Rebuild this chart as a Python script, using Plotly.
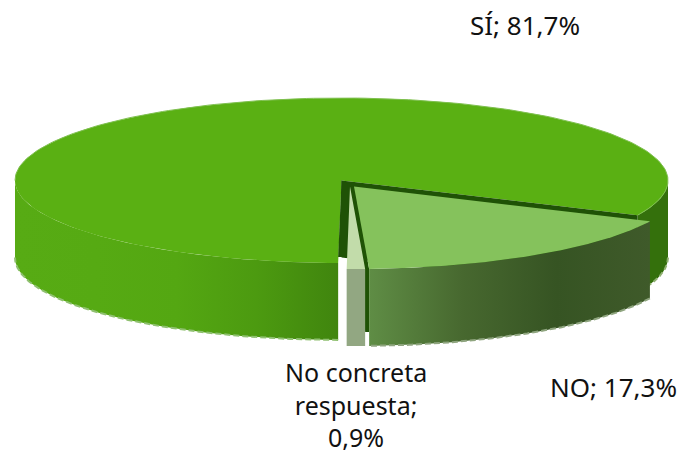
import numpy as np
import plotly.graph_objects as go

categories = ["NO", "No concreta respuesta", "SÍ"]
values = [17.3, 0.9, 81.7]
value_labels = ["17,3%", "0,9%", "81,7%"]

# Look of each slice: top colour, side gradient (left to right)
top_colors = ["#85c25c", "#c2dcaa", "#5ab013"]
wall_colors = [["#5f8d45", "#47682f", "#365423", "#3f5a2a"],
               ["#92a782", "#92a782"],
               ["#57ab14", "#56aa13", "#54a712", "#4c9a10", "#40850e"]]
dark = "#1f5206"

# Projection of the pie
CX, CY, RX, RY, DEPTH = 341.5, 180.5, 326.5, 82.5, 77
START = 25.0
OFFSETS = [(12.5, 6.0), (8.5, 6.0), (0, 0)]

starts, ends, a = [], [], START
for v in values:
    starts.append(a)
    a += v * 360 / sum(values)
    ends.append(a)


def rim(t0, t1, off=(0, 0), dy=0, n=160):
    t = np.radians(np.linspace(t0, t1, n))
    return CX + off[0] + RX * np.cos(t), CY + off[1] + dy + RY * np.sin(t)


def wedge_top(i):
    x, y = rim(starts[i], ends[i], OFFSETS[i])
    tx, ty = CX + OFFSETS[i][0], CY + OFFSETS[i][1]
    return np.r_[tx, x, tx], np.r_[ty, y, ty]


def wall(t0, t1, off):
    x0, y0 = rim(t0, t1, off)
    x1, y1 = rim(t1, t0, off, DEPTH)
    return np.r_[x0, x1, x0[0]], np.r_[y0, y1, y0[0]]


def scale(colors):
    return [[k / (len(colors) - 1), c] for k, c in enumerate(colors)]


fig = go.Figure()


def add_solid(x, y, color):
    fig.add_trace(go.Scatter(x=x, y=y, mode="lines", fill="toself", fillcolor=color,
                             line=dict(width=0, color=color), hoverinfo="skip"))


def add_grad(x, y, colors):
    fig.add_trace(go.Scatter(x=x, y=y, mode="lines", fill="toself",
                             fillgradient=dict(type="horizontal", colorscale=scale(colors)),
                             line=dict(width=0), hoverinfo="skip"))


def add_edge(t0, t1, off, dy, color, width, dash="solid"):
    x, y = rim(t0, t1, off, dy)
    fig.add_trace(go.Scatter(x=x, y=y, mode="lines", hoverinfo="skip",
                             line=dict(color=color, width=width, dash=dash)))


SI, NC, NO = 2, 1, 0
si_end = ends[SI] - 360

# --- SÍ slice: walls, top, radial walls
add_grad(*wall(starts[SI], 180, OFFSETS[SI]), wall_colors[SI])
add_edge(starts[SI], 180, OFFSETS[SI], DEPTH, "#8fc070", 2, "6px,3px")
add_solid(*wall(0, si_end, OFFSETS[SI]), "#34700c")
add_edge(0, si_end, OFFSETS[SI], DEPTH, "#8fb070", 2, "5px,3px")
add_solid(*wedge_top(SI), top_colors[SI])
add_edge(180, ends[SI], OFFSETS[SI], 0, "#7fc050", 1)

# radial wall of SÍ along the NO edge
rx0, ry0 = rim(si_end, si_end, OFFSETS[SI], n=1)
add_solid(np.r_[CX, rx0, rx0, CX, CX], np.r_[CY, ry0, ry0 + DEPTH, CY + DEPTH, CY], dark)

# radial wall of SÍ at its far end (slightly open toward the viewer)
ex, ey = rim(starts[SI], starts[SI], OFFSETS[SI], n=1)
add_solid(np.r_[CX, CX + 6, CX + 6, ex, CX], np.r_[CY, CY + 3, ey - 6, ey - 6, CY], dark)

# radial wall of NO, seen through the gap next to "No concreta"
nx, ny = rim(ends[NO], ends[NO], OFFSETS[NO], n=1)
tx, ty = CX + OFFSETS[NO][0], CY + OFFSETS[NO][1]
add_solid(np.r_[tx, nx, nx, nx - 4, tx], np.r_[ty, ny, ny + DEPTH - 14, ny + DEPTH - 14, ty], dark)

# --- No concreta slice
add_grad(*wall(starts[NC], ends[NC], OFFSETS[NC]), wall_colors[NC])
add_solid(*wedge_top(NC), top_colors[NC])

# --- NO slice
add_grad(*wall(starts[NO], ends[NO], OFFSETS[NO]), wall_colors[NO])
add_edge(starts[NO], ends[NO], OFFSETS[NO], DEPTH, "#8fa57f", 2, "6px,3px")
add_solid(*wedge_top(NO), top_colors[NO])

# --- Labels
label_lines = [
    (f"{categories[2]}; {value_labels[2]}", 525, 25, 26),
    (f"{categories[0]}; {value_labels[0]}", 613, 387, 26),
    (f"No concreta<br>respuesta;<br>{value_labels[1]}", 356, 404, 25),
]
for text, x, y, size in label_lines:
    fig.add_annotation(text=text, x=x, y=y, xref="x", yref="y", showarrow=False,
                       xanchor="center", yanchor="middle",
                       font=dict(family="Noto Sans", size=size, color="#111111"))

fig.update_layout(
    width=684, height=455, margin=dict(l=0, r=0, t=0, b=0),
    paper_bgcolor="white", plot_bgcolor="white", showlegend=False,
    xaxis=dict(range=[0, 684], visible=False, fixedrange=True),
    yaxis=dict(range=[455, 0], visible=False, fixedrange=True),
)
fig.write_html("out.html", config=dict(displayModeBar=False),
               post_script="document.body.style.margin='0';")
